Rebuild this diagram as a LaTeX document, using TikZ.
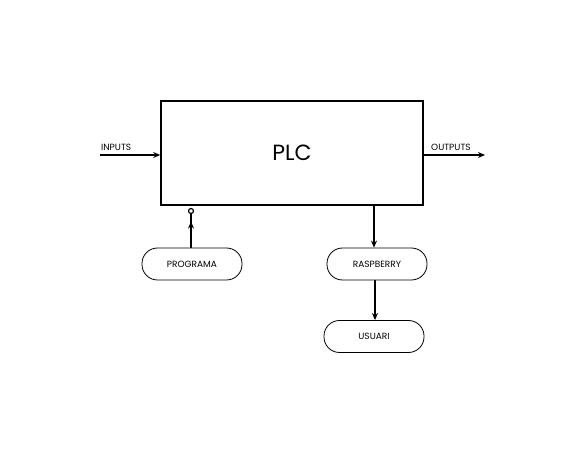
\documentclass[tikz,border=0pt]{standalone}
\usepackage{fontspec}
\setmainfont{Poppins}
\usetikzlibrary{arrows.meta}

\begin{document}
\begin{tikzpicture}[>={Stealth[length=7pt,width=6pt]}, x=1pt, y=-1pt,
  pill/.style={draw, line width=0.8pt, rounded corners=15.5pt, minimum width=100pt, minimum height=32pt, inner sep=0pt, font=\fontsize{9}{10}\selectfont},
  flow/.style={->, line width=1.6pt},
  lbl/.style={font=\fontsize{9}{10}\selectfont, inner sep=1pt}]
  \useasboundingbox (0,0) rectangle (584,454);
  % plc box
  \node[draw, line width=1.6pt, minimum width=262pt, minimum height=104pt, inner sep=0pt, font=\fontsize{22}{24}\selectfont] (plc) at (292,153) {PLC};
  % inputs / outputs
  \coordinate (in) at (100,155); \coordinate (out) at (485,155);
  \draw[flow] (in) -- (in -| plc.west); \node[lbl, anchor=south west] (inl) at (100,152) {INPUTS};
  \draw[flow] (out -| plc.east) -- (out); \node[lbl, anchor=south west] (outl) at (430,152) {OUTPUTS};
  % programa
  \node[pill] (prog) at (192,264) {PROGRAMA};
  \node[circle, draw, line width=1.2pt, inner sep=0pt, minimum size=5pt] (pin) at (191,211) {};
  \draw[line width=1.6pt] (prog.north -| pin) -- (pin); \draw[flow] (prog.north -| pin) -- ++(0,-26);
  % raspberry / usuari
  \node[pill] (rasp) at (377,264) {RASPBERRY};
  \node[pill] (usu) at (374,336.5) {USUARI};
  \draw[flow] (plc.south -| 374,0) -- (rasp.north -| 374,0);
  \draw[flow] (rasp.south -| 375,0) -- (usu.north -| 375,0);
\end{tikzpicture}
\end{document}
